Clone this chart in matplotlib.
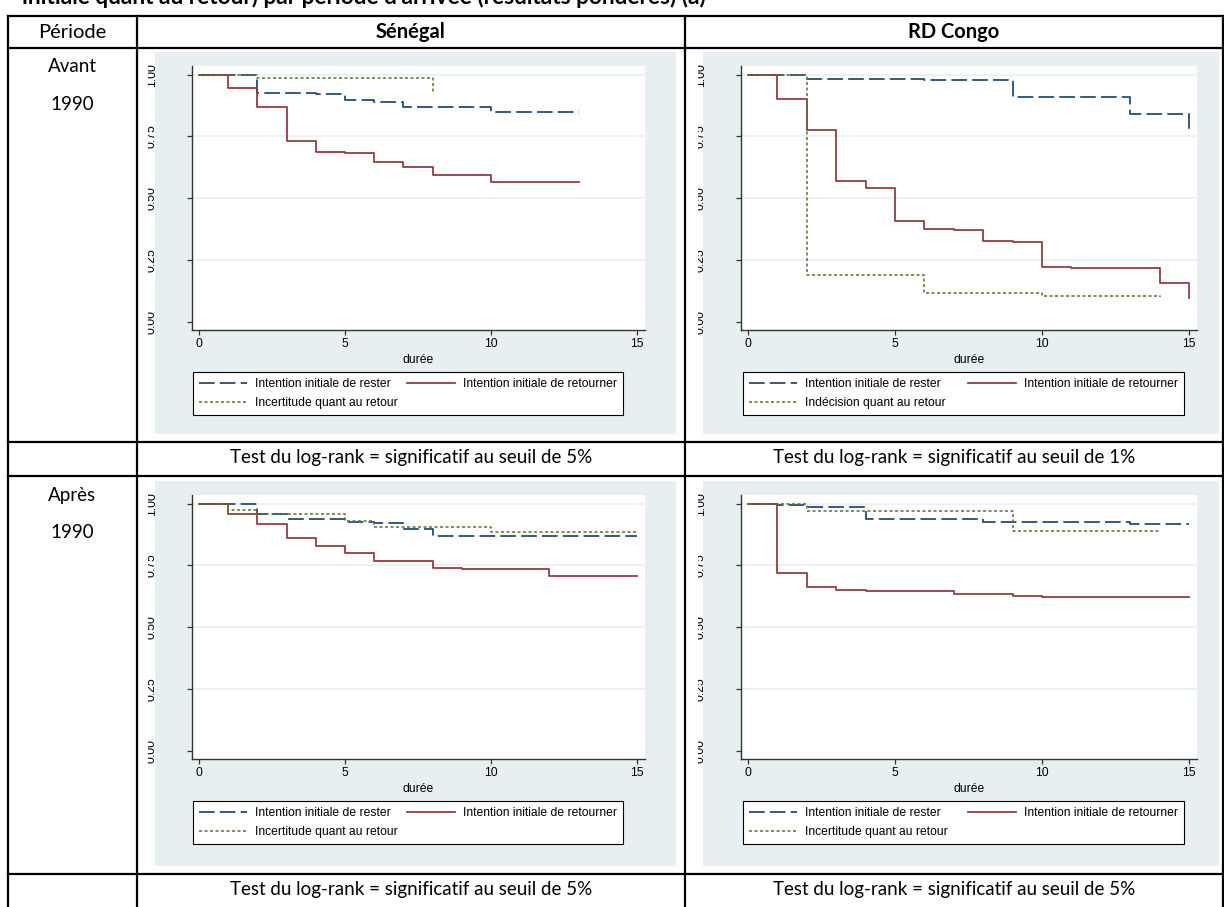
import matplotlib
matplotlib.use("Agg")
import matplotlib.pyplot as plt
from matplotlib.lines import Line2D
from matplotlib.patches import Rectangle
from matplotlib.transforms import Bbox

plt.rcParams['font.family'] = ['Liberation Sans', 'DejaVu Sans']

W, H = 1224, 907

# Sénégal, avant 1990
sn_av_rester_t = [0, 2, 4, 5, 6, 7, 10, 13]
sn_av_rester_s = [1.0, 0.927, 0.923, 0.899, 0.889, 0.870, 0.849, 0.849]
sn_av_retour_t = [0, 1, 2, 3, 4, 5, 6, 7, 8, 10, 13]
sn_av_retour_s = [1.0, 0.947, 0.868, 0.731, 0.688, 0.681, 0.647, 0.627, 0.592, 0.565, 0.565]
sn_av_incert_t = [0, 2, 8]
sn_av_incert_s = [1.0, 0.987, 0.931]

# RD Congo, avant 1990
cd_av_rester_t = [0, 2, 6, 9, 13, 15]
cd_av_rester_s = [1.0, 0.982, 0.977, 0.909, 0.841, 0.778]
cd_av_retour_t = [0, 1, 2, 3, 4, 5, 6, 7, 8, 9, 10, 11, 14, 15]
cd_av_retour_s = [1.0, 0.900, 0.775, 0.570, 0.542, 0.409, 0.375, 0.370, 0.325, 0.322, 0.222, 0.218, 0.156, 0.095]
cd_av_incert_t = [0, 2, 6, 10, 14]
cd_av_incert_s = [1.0, 0.190, 0.114, 0.102, 0.098]

# Sénégal, après 1990
sn_ap_rester_t = [0, 2, 3, 5, 6, 7, 8, 15]
sn_ap_rester_s = [1.0, 0.957, 0.938, 0.924, 0.920, 0.897, 0.869, 0.869]
sn_ap_retour_t = [0, 1, 2, 3, 4, 5, 6, 8, 9, 12, 15]
sn_ap_retour_s = [1.0, 0.957, 0.916, 0.862, 0.830, 0.800, 0.769, 0.738, 0.736, 0.708, 0.708]
sn_ap_incert_t = [0, 1, 2, 5, 6, 10, 15]
sn_ap_incert_s = [1.0, 0.976, 0.957, 0.930, 0.904, 0.884, 0.884]

# RD Congo, après 1990
cd_ap_rester_t = [0, 1, 2, 4, 8, 13, 15]
cd_ap_rester_s = [1.0, 0.993, 0.988, 0.936, 0.924, 0.919, 0.919]
cd_ap_retour_t = [0, 1, 2, 3, 4, 7, 9, 10, 15]
cd_ap_retour_s = [1.0, 0.721, 0.661, 0.649, 0.646, 0.633, 0.627, 0.622, 0.622]
cd_ap_incert_t = [0, 2, 9, 14]
cd_ap_incert_s = [1.0, 0.970, 0.889, 0.889]

x_ticks = [0, 5, 10, 15]
y_ticks = [0, 0.25, 0.5, 0.75, 1.0]
y_ticklabels = ["0.00", "0.25", "0.50", "0.75", "1.00"]

lab_rester = "Intention initiale de rester"
lab_retour = "Intention initiale de retourner"
lab_incert = "Incertitude quant au retour"
lab_indec = "Indécision quant au retour"

pays = ["Sénégal", "RD Congo"]
periodes = [("Avant", "1990"), ("Après", "1990")]
tests = [["Test du log-rank = significatif au seuil de 5%",
          "Test du log-rank = significatif au seuil de 1%"],
         ["Test du log-rank = significatif au seuil de 5%",
          "Test du log-rank = significatif au seuil de 5%"]]
titre = "initiale quant au retour) par période d'arrivée (résultats pondérés) (a)"

# styles Stata s2color
c_rester = "#1a476f"
c_retour = "#90353b"
c_incert = "#55752f"
bg = "#e8eff1"
TFONT = ['Lato', 'DejaVu Sans']
FS = 8.7


def fx(x):
    return x / W


def fy(y):
    return 1 - y / H


def rect(x0, y0, x1, y1):
    return [fx(x0), fy(y1), (x1 - x0) / W, (y1 - y0) / H]


fig = plt.figure(figsize=(W / 100, H / 100), dpi=100)


def hline(y, x0, x1):
    fig.add_artist(Line2D([fx(x0), fx(x1)], [fy(y), fy(y)], transform=fig.transFigure,
                          color='black', lw=1.6))


def vline(x, y0, y1):
    fig.add_artist(Line2D([fx(x), fx(x)], [fy(y0), fy(y1)], transform=fig.transFigure,
                          color='black', lw=1.6))


def km_panel(panel, plot, leg, clip_x, curves, third):
    fig.add_artist(Rectangle((fx(panel[0]), fy(panel[3])), (panel[2] - panel[0]) / W,
                             (panel[3] - panel[1]) / H, transform=fig.transFigure,
                             facecolor=bg, edgecolor='none', zorder=0))
    ax = fig.add_axes(rect(*plot))
    (rt, rs), (qt, qs), (it, is_) = curves
    ax.step(rt, rs, where='post', color=c_rester, lw=1.25, dashes=(9, 3))
    ax.step(qt, qs, where='post', color=c_retour, lw=1.25)
    ax.step(it, is_, where='post', color=c_incert, lw=1.1, dashes=(2, 1.6))
    ax.set_xlim(-0.24, 15.27)
    ax.set_ylim(-0.034, 1.035)
    ax.set_xticks(x_ticks)
    ax.set_yticks(y_ticks)
    ax.set_yticklabels(y_ticklabels)
    ax.set_xlabel("durée", fontsize=FS, labelpad=2.5)
    for s in ['top', 'right']:
        ax.spines[s].set_visible(False)
    for s in ['left', 'bottom']:
        ax.spines[s].set_color('#333333')
        ax.spines[s].set_linewidth(1.0)
    ax.tick_params(axis='both', colors='#333333', labelcolor='black', labelsize=FS,
                   length=3.5, width=0.9)
    ax.tick_params(axis='x', pad=2.5)
    ax.tick_params(axis='y', pad=21, labelrotation=90)
    ax.yaxis.grid(True, color='#e8eff1', lw=1.2)
    ax.set_axisbelow(True)
    ax.yaxis.get_gridlines()[0].set_visible(False)
    box = Bbox.from_extents(clip_x, 0, W, H)
    for t in ax.yaxis.get_major_ticks():
        t.label1.set_va('center')
        t.label1.set_clip_on(True)
        t.label1.set_clip_box(box)
    handles = [Line2D([], [], color=c_rester, lw=1.25, dashes=(9, 3)),
               Line2D([], [], color=c_incert, lw=1.1, dashes=(2, 1.6)),
               Line2D([], [], color=c_retour, lw=1.25)]
    labels = [lab_rester, third, lab_retour]
    lg = ax.legend(handles, labels, ncol=2, mode='expand', loc='upper left',
                   bbox_to_anchor=rect(*leg), bbox_transform=fig.transFigure,
                   borderaxespad=0, fontsize=FS, handlelength=4.0, handletextpad=0.65,
                   labelspacing=0.6, borderpad=0.5, fancybox=False, framealpha=1,
                   edgecolor='black', columnspacing=1.0)
    lg.get_frame().set_linewidth(0.8)
    return ax


km_panel((155, 52, 676, 434), (192, 66, 645, 330), (193, 372, 623, 417), 148,
         [(sn_av_rester_t, sn_av_rester_s), (sn_av_retour_t, sn_av_retour_s),
          (sn_av_incert_t, sn_av_incert_s)], lab_incert)
km_panel((703, 52, 1219, 434), (741, 66, 1197, 330), (743, 372, 1184, 417), 698,
         [(cd_av_rester_t, cd_av_rester_s), (cd_av_retour_t, cd_av_retour_s),
          (cd_av_incert_t, cd_av_incert_s)], lab_indec)
km_panel((155, 481, 676, 866), (192, 495, 645, 759), (193, 801, 623, 846), 148,
         [(sn_ap_rester_t, sn_ap_rester_s), (sn_ap_retour_t, sn_ap_retour_s),
          (sn_ap_incert_t, sn_ap_incert_s)], lab_incert)
km_panel((703, 481, 1219, 866), (741, 495, 1197, 759), (743, 801, 1184, 846), 698,
         [(cd_ap_rester_t, cd_ap_rester_s), (cd_ap_retour_t, cd_ap_retour_s),
          (cd_ap_incert_t, cd_ap_incert_s)], lab_incert)

# ---- tableau ----
top, head, r1, r2, r3 = 16, 48, 442, 476, 874
for y in [top, head, r1, r2, r3]:
    hline(y, 8, W)
for x in [8, 137, 685, 1223]:
    vline(x, top, H)

fig.text(fx(22), fy(4), titre, fontsize=16.3, fontweight='bold', family=TFONT, va='baseline')
fig.text(fx(72), fy(32), "Période", fontsize=14.5, family=TFONT, ha='center', va='center')
fig.text(fx(411), fy(32), pays[0], fontsize=14.5, family=TFONT, ha='center', va='center',
         fontweight='bold')
fig.text(fx(954), fy(32), pays[1], fontsize=14.5, family=TFONT, ha='center', va='center',
         fontweight='bold')
for (a, b), y in zip(periodes, [66, 495]):
    fig.text(fx(72), fy(y), a, fontsize=13.5, family=TFONT, ha='center', va='center')
    fig.text(fx(72), fy(y + 38), b, fontsize=13.5, family=TFONT, ha='center', va='center')
for row, y in zip(tests, [458, 890]):
    fig.text(fx(411), fy(y), row[0], fontsize=13.5, family=TFONT, ha='center', va='center')
    fig.text(fx(954), fy(y), row[1], fontsize=13.5, family=TFONT, ha='center', va='center')

fig.savefig("out.png", dpi=100)
